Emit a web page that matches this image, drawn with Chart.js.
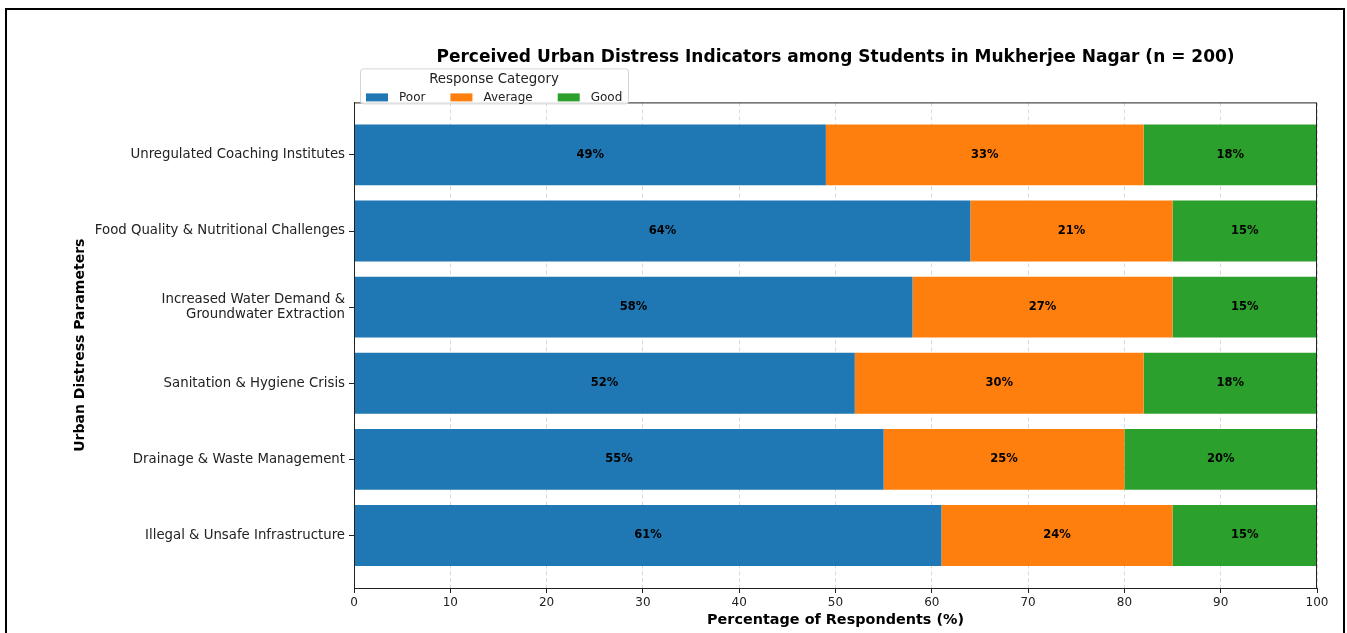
<!DOCTYPE html>
<html>
<head>
<meta charset="utf-8">
<script src="https://cdn.jsdelivr.net/npm/chart.js@4.4.1/dist/chart.umd.min.js"></script>
<style>
  html, body { margin: 0; padding: 0; background: #fff; }
  #wrap { position: relative; width: 1347px; height: 633px; overflow: hidden; }
  #chart { position: absolute; left: 0; top: 0; }
  #frame { position: absolute; left: 5px; top: 8px; width: 1336px; height: 700px; border: 2px solid #000; pointer-events: none; }
</style>
</head>
<body>
<div id="wrap">
  <canvas id="chart" width="1347" height="633"></canvas>
  <div id="frame"></div>
</div>
<script>
const categories = [
  "Unregulated Coaching Institutes",
  "Food Quality & Nutritional Challenges",
  "Increased Water Demand &\nGroundwater Extraction",
  "Sanitation & Hygiene Crisis",
  "Drainage & Waste Management",
  "Illegal & Unsafe Infrastructure",
];
const poor = [49, 64, 58, 52, 55, 61];
const average = [33, 21, 27, 30, 25, 24];
const good = [18, 15, 15, 18, 20, 15];
const xTicks = [0, 10, 20, 30, 40, 50, 60, 70, 80, 90, 100];

const FONT = "'DejaVu Sans', sans-serif";
Chart.defaults.font.family = FONT;
Chart.defaults.color = "#222";

const toPoints = (arr) => arr.map((v, i) => ({ x: v, y: i }));

// percentage text in the middle of every segment
const segmentLabels = {
  id: "segmentLabels",
  afterDatasetsDraw(chart) {
    const { ctx } = chart;
    ctx.save();
    ctx.font = `bold 11.5px ${FONT}`;
    ctx.fillStyle = "#000";
    ctx.textAlign = "center";
    ctx.textBaseline = "middle";
    chart.data.datasets.forEach((ds, di) => {
      const meta = chart.getDatasetMeta(di);
      meta.data.forEach((bar, i) => {
        const cx = (bar.x + bar.base) / 2;
        ctx.fillText(`${ds.data[i].x}%`, cx, bar.y);
      });
    });
    ctx.restore();
  },
};

// axes box + matplotlib-style legend sitting on the top spine
const boxAndLegend = {
  id: "boxAndLegend",
  afterDraw(chart) {
    const { ctx, chartArea: { left, top, right, bottom } } = chart;
    ctx.save();
    ctx.strokeStyle = "#222";
    ctx.lineWidth = 1;
    ctx.strokeRect(left + 0.5, top + 0.5, right - left - 1, bottom - top);

    const bx = left + 6, by = top - 34, bw = 268, bh = 35;
    ctx.beginPath();
    ctx.roundRect(bx + 0.5, by + 0.5, bw, bh, 3);
    ctx.fillStyle = "rgba(255,255,255,0.85)";
    ctx.fill();
    ctx.strokeStyle = "#d4d4d4";
    ctx.stroke();

    ctx.fillStyle = "#222";
    ctx.textBaseline = "middle";
    ctx.textAlign = "center";
    ctx.font = `13.4px ${FONT}`;
    ctx.fillText("Response Category", bx + bw / 2, by + 11);

    ctx.textAlign = "left";
    ctx.font = `12px ${FONT}`;
    let x = bx + 6;
    const y = by + 29;
    chart.data.datasets.forEach((ds) => {
      ctx.fillStyle = ds.backgroundColor;
      ctx.fillRect(x, y - 4, 22, 8);
      ctx.fillStyle = "#222";
      ctx.fillText(ds.label, x + 33, y);
      x += 33 + ctx.measureText(ds.label).width + 25;
    });
    ctx.restore();
  },
};

new Chart(document.getElementById("chart"), {
  type: "bar",
  data: {
    datasets: [
      { label: "Poor", data: toPoints(poor), backgroundColor: "#1f77b4" },
      { label: "Average", data: toPoints(average), backgroundColor: "#ff7f0e" },
      { label: "Good", data: toPoints(good), backgroundColor: "#2ca02c" },
    ],
  },
  options: {
    indexAxis: "y",
    responsive: false,
    animation: false,
    devicePixelRatio: 1,
    barPercentage: 0.8,
    categoryPercentage: 1.0,
    layout: { padding: { left: 0, right: 30, top: 0, bottom: 0 } },
    plugins: {
      legend: { display: false },
      tooltip: { enabled: false },
      title: {
        display: true,
        fullSize: false,
        text: "Perceived Urban Distress Indicators among Students in Mukherjee Nagar (n = 200)",
        color: "#000",
        font: { family: FONT, size: 17, weight: "bold" },
        padding: { top: 47, bottom: 35 },
      },
    },
    scales: {
      x: {
        type: "linear",
        stacked: true,
        min: 0,
        max: 100,
        z: 1,
        afterBuildTicks: (scale) => { scale.ticks = xTicks.map((v) => ({ value: v })); },
        afterFit: (scale) => { scale.height = 45; },
        ticks: { font: { size: 12 }, color: "#222", padding: 3 },
        grid: {
          color: "rgba(160,160,160,0.4)",
          tickColor: "#222",
          tickLength: 5,
          tickBorderDash: [],
        },
        border: { display: true, color: "#222", dash: [4, 3] },
        title: {
          display: true,
          text: "Percentage of Respondents (%)",
          color: "#000",
          font: { size: 14.4, weight: "bold" },
          padding: { top: 0, bottom: 4 },
        },
      },
      y: {
        type: "linear",
        stacked: true,
        reverse: true,
        offset: false,
        min: -0.69,
        max: 5.69,
        afterBuildTicks: (scale) => { scale.ticks = categories.map((c, i) => ({ value: i })); },
        afterFit: (scale) => { scale.width = 354; },
        ticks: {
          font: { size: 13.3, lineHeight: 1.15 },
          color: "#222",
          padding: 4,
          callback: (v) => categories[v].split("\n"),
        },
        grid: { offset: false, drawOnChartArea: false, tickColor: "#222", tickLength: 5 },
        border: { display: true, color: "#222" },
        title: {
          display: true,
          text: "Urban Distress Parameters",
          color: "#000",
          font: { size: 14, weight: "bold" },
          padding: { top: 72, bottom: 0 },
        },
      },
    },
  },
  plugins: [segmentLabels, boxAndLegend],
});
</script>
</body>
</html>
